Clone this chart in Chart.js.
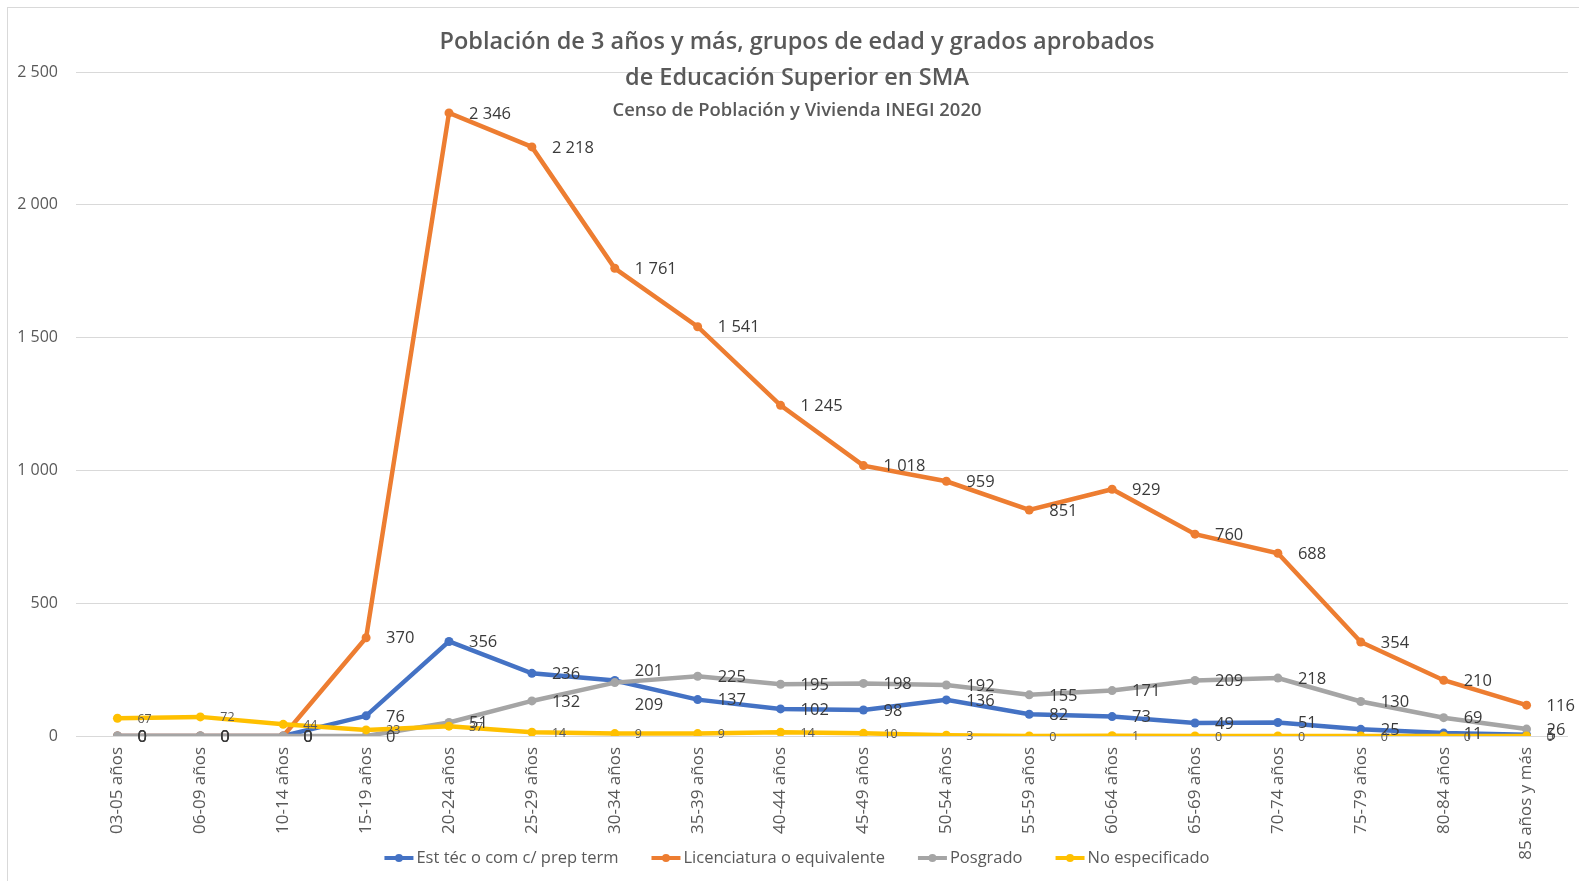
<!DOCTYPE html>
<html lang="es">
<head>
<meta charset="utf-8">
<title>Población de 3 años y más con Educación Superior en SMA</title>
<script src="https://cdn.jsdelivr.net/npm/chart.js@4.4.1/dist/chart.umd.min.js"></script>
<style>
  html, body { margin: 0; padding: 0; background: #fff; }
  #wrap { width: 1579px; height: 881px; }
</style>
</head>
<body>
<div id="wrap"><canvas id="grafica" width="1579" height="881"></canvas></div>
<script>
// Grupos de edad (eje X)
const gruposEdad = ['03-05 años', '06-09 años', '10-14 años', '15-19 años', '20-24 años',
    '25-29 años', '30-34 años', '35-39 años', '40-44 años', '45-49 años', '50-54 años',
    '55-59 años', '60-64 años', '65-69 años', '70-74 años', '75-79 años', '80-84 años',
    '85 años y más'];

// Personas por grado aprobado
const estTecnico     = [0, 0, 0, 76, 356, 236, 209, 137, 102, 98, 136, 82, 73, 49, 51, 25, 11, 5];
const licenciatura   = [0, 0, 0, 370, 2346, 2218, 1761, 1541, 1245, 1018, 959, 851, 929, 760, 688, 354, 210, 116];
const posgrado       = [0, 0, 0, 0, 51, 132, 201, 225, 195, 198, 192, 155, 171, 209, 218, 130, 69, 26];
const noEspecificado = [67, 72, 44, 23, 37, 14, 9, 9, 14, 10, 3, 0, 1, 0, 0, 0, 0, 0];

// Escala del eje Y
const ejeYMin = 0;
const ejeYMax = 2500;
const ejeYPaso = 500;

const tituloLineas = ['Población de 3 años y más, grupos de edad y grados aprobados',
    'de Educación Superior en SMA'];
const subtitulo = 'Censo de Población y Vivienda INEGI 2020';

const FUENTE = '"Open Sans", "DejaVu Sans", sans-serif';
const GRIS_TEXTO = '#595959';

// Formato con espacio como separador de miles (2 346)
function formatear(valor) {
    return String(valor).replace(/\B(?=(\d{3})+(?!\d))/g, ' ');
}

// Etiquetas de datos a la derecha de cada punto
const etiquetasPlugin = {
    id: 'etiquetas',
    afterDatasetsDraw(chart) {
        const ctx = chart.ctx;
        const datasets = chart.data.datasets;
        const metas = datasets.map((ds, i) => chart.getDatasetMeta(i));

        // separar etiquetas grandes cuyos puntos casi coinciden:
        // la serie posterior sube y la anterior baja
        const desplazamiento = datasets.map(ds => ds.data.map(() => 0));
        gruposEdad.forEach((g, j) => {
            for (let a = 0; a < datasets.length; a++) {
                for (let b = a + 1; b < datasets.length; b++) {
                    if (datasets[a].chica || datasets[b].chica) continue;
                    if (!datasets[a].data[j] || !datasets[b].data[j]) continue;
                    const ya = metas[a].data[j].y;
                    const yb = metas[b].data[j].y;
                    if (Math.abs(ya - yb) < 4) {
                        desplazamiento[b][j] = -12;
                        desplazamiento[a][j] = 24;
                    }
                }
            }
        });

        ctx.save();
        ctx.textAlign = 'left';
        ctx.textBaseline = 'middle';
        datasets.forEach((ds, i) => {
            ctx.font = ds.fuenteEtiqueta;
            ctx.fillStyle = ds.colorEtiqueta;
            metas[i].data.forEach((pt, j) => {
                ctx.fillText(formatear(ds.data[j]), pt.x + 20, pt.y + 1 + desplazamiento[i][j]);
            });
        });
        ctx.restore();
    }
};

// Título, leyenda inferior y marco del gráfico
const decoracionPlugin = {
    id: 'decoracion',
    afterDraw(chart) {
        const ctx = chart.ctx;
        const centroX = 797;
        ctx.save();

        // marco
        ctx.strokeStyle = '#d9d9d9';
        ctx.lineWidth = 1;
        ctx.strokeRect(7.5, 7.5, 1585, 890);

        // título
        ctx.fillStyle = GRIS_TEXTO;
        ctx.textAlign = 'center';
        ctx.textBaseline = 'middle';
        ctx.font = '600 23.5px ' + FUENTE;
        ctx.fillText(tituloLineas[0], centroX, 42);
        ctx.fillText(tituloLineas[1], centroX, 78);
        ctx.font = '600 18.4px ' + FUENTE;
        ctx.fillText(subtitulo, centroX, 111);

        // leyenda
        ctx.font = '16.5px ' + FUENTE;
        ctx.textAlign = 'left';
        const largoLinea = 29;
        const separacion = 33;
        const items = chart.data.datasets.map(ds => ({
            texto: ds.label,
            color: ds.borderColor,
            ancho: largoLinea + 3 + ctx.measureText(ds.label).width
        }));
        const total = items.reduce((s, it) => s + it.ancho, 0) + separacion * (items.length - 1);
        let x = centroX - total / 2;
        const y = 858;
        items.forEach(it => {
            ctx.strokeStyle = it.color;
            ctx.lineWidth = 4;
            ctx.beginPath();
            ctx.moveTo(x, y);
            ctx.lineTo(x + largoLinea, y);
            ctx.stroke();
            ctx.fillStyle = it.color;
            ctx.beginPath();
            ctx.arc(x + largoLinea / 2, y, 4, 0, Math.PI * 2);
            ctx.fill();
            ctx.fillStyle = GRIS_TEXTO;
            ctx.fillText(it.texto, x + largoLinea + 3, y);
            x += it.ancho + separacion;
        });
        ctx.restore();
    }
};

function serie(label, data, color, orden, chica) {
    return {
        label: label,
        data: data,
        borderColor: color,
        backgroundColor: color,
        borderWidth: 4.5,
        pointRadius: 4.5,
        pointHoverRadius: 4.5,
        pointBorderWidth: 0,
        tension: 0,
        order: orden,
        chica: chica,
        fuenteEtiqueta: chica ? '12.5px ' + FUENTE : '500 16.5px ' + FUENTE,
        colorEtiqueta: chica ? '#595959' : '#3a3a3a'
    };
}

function start() {
    const ctx = document.getElementById('grafica').getContext('2d');
    new Chart(ctx, {
        type: 'line',
        data: {
            labels: gruposEdad,
            datasets: [
                serie('Est téc o com c/ prep term', estTecnico, '#4472c4', 3, false),
                serie('Licenciatura o equivalente', licenciatura, '#ed7d31', 2, false),
                serie('Posgrado', posgrado, '#a5a5a5', 1, false),
                serie('No especificado', noEspecificado, '#ffc000', 0, true)
            ]
        },
        options: {
            responsive: false,
            devicePixelRatio: 1,
            animation: false,
            layout: {
                padding: { top: 72, left: 10, right: 11, bottom: 0 }
            },
            plugins: {
                legend: { display: false },
                title: { display: false },
                tooltip: { enabled: false }
            },
            scales: {
                x: {
                    offset: true,
                    grid: { display: false, drawTicks: false },
                    border: { display: false },
                    ticks: {
                        color: GRIS_TEXTO,
                        font: { family: FUENTE, size: 17 },
                        minRotation: 90,
                        maxRotation: 90,
                        autoSkip: false,
                        padding: 11
                    },
                    afterFit(scale) { scale.height = 145; }
                },
                y: {
                    min: ejeYMin,
                    max: ejeYMax,
                    grid: { color: '#d9d9d9', lineWidth: 1, drawTicks: false },
                    border: { display: false },
                    ticks: {
                        stepSize: ejeYPaso,
                        color: GRIS_TEXTO,
                        font: { family: FUENTE, size: 16 },
                        padding: 18,
                        callback: v => formatear(v)
                    },
                    afterFit(scale) { scale.width = 66; }
                }
            }
        },
        plugins: [etiquetasPlugin, decoracionPlugin]
    });
}

window.addEventListener('load', start, false);
</script>
</body>
</html>
